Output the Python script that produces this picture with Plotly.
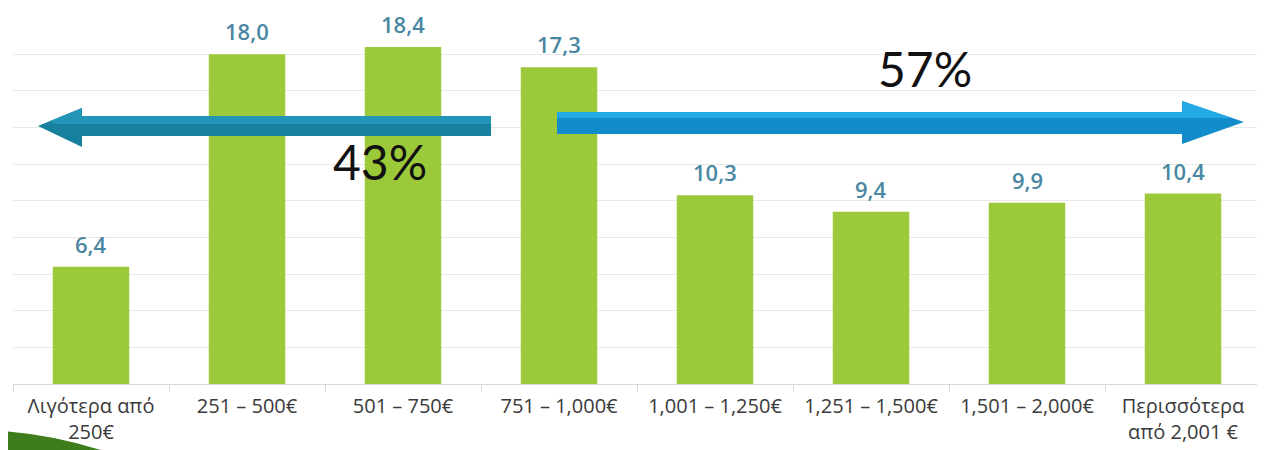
import plotly.graph_objects as go

categories = ["Λιγότερα από<br>250€", "251 – 500€", "501 – 750€", "751 – 1,000€",
              "1,001 – 1,250€", "1,251 – 1,500€", "1,501 – 2,000€", "Περισσότερα<br>από 2,001 €"]
values = [6.4, 18.0, 18.4, 17.3, 10.3, 9.4, 9.9, 10.4]
value_labels = [f"{v:.1f}".replace(".", ",") for v in values]
share_left = "43%"
share_right = "57%"

# page body has an 8px default margin; compensate so the picture lines up with the window
OFF = 8
W, H = 1265 - OFF, 450 - OFF
# target plot area in window pixels: x 13..1261, y 17..384
L_PX, R_PX, T_PX, B_PX = 13, 1261, 17, 384
ML, MT = L_PX - OFF, T_PX - OFF
MR = W - (R_PX - OFF)
MB = H - (B_PX - OFF)
PW, PH = R_PX - L_PX, B_PX - T_PX


def px(x):
    return (x - L_PX) / PW


def py(y):
    return (B_PX - y) / PH


def path(points):
    return "M " + " L ".join(f"{px(x):.5f},{py(y):.5f}" for x, y in points) + " Z"


fig = go.Figure()
fig.add_trace(go.Bar(
    x=categories, y=values, width=0.49,
    marker=dict(color="#9bc93a", line=dict(width=0)),
    hoverinfo="skip",
))

for c, v, t in zip(categories, values, value_labels):
    fig.add_annotation(x=c, y=v, text=t, showarrow=False, yanchor="bottom", yshift=6,
                       font=dict(family="Open Sans", size=22, color="#4a87a2", weight=600))

shapes = []
# bottom-left swoosh (under the tick labels)
shapes.append(dict(type="path", xref="paper", yref="paper",
                   path=f"M {px(0):.5f},{py(431):.5f} Q {px(50):.5f},{py(434):.5f} {px(104):.5f},{py(451):.5f} "
                        f"L {px(0):.5f},{py(451):.5f} Z",
                   fillcolor="#3f7d1c", line=dict(width=0), layer="below"))
# left arrow (teal)
left_arrow = [(38, 126), (82, 108), (82, 116), (491, 116), (491, 136), (82, 136), (82, 147)]
shapes.append(dict(type="path", xref="paper", yref="paper", path=path(left_arrow),
                   fillcolor="#17809f", line=dict(width=0), layer="above"))
shapes.append(dict(type="path", xref="paper", yref="paper",
                   path=path([(50, 121), (82, 108), (82, 116), (491, 116), (491, 124), (82, 124), (56, 124)]),
                   fillcolor="#2396b8", line=dict(width=0), layer="above"))
# right arrow (blue)
right_arrow = [(557, 112), (1182, 112), (1182, 101), (1244, 122), (1182, 144), (1182, 134), (557, 134)]
shapes.append(dict(type="path", xref="paper", yref="paper", path=path(right_arrow),
                   fillcolor="#138ccb", line=dict(width=0), layer="above"))
shapes.append(dict(type="path", xref="paper", yref="paper",
                   path=path([(557, 112), (1182, 112), (1182, 101), (1232, 118), (1182, 118), (557, 118)]),
                   fillcolor="#22a9e6", line=dict(width=0), layer="above"))
fig.update_layout(shapes=shapes)

fig.add_annotation(xref="paper", yref="paper", x=px(925), y=py(69), xanchor="center", yanchor="middle",
                   text=share_right, showarrow=False,
                   font=dict(family="Lato", size=48, color="#111111"))
fig.add_annotation(xref="paper", yref="paper", x=px(380), y=py(162), xanchor="center", yanchor="middle",
                   text=share_left, showarrow=False,
                   font=dict(family="Lato", size=48, color="#111111"))

fig.update_layout(
    width=W, height=H,
    margin=dict(l=ML, r=MR, t=MT, b=MB, autoexpand=False),
    paper_bgcolor="white", plot_bgcolor="white",
    showlegend=False,
    xaxis=dict(type="category", tickson="boundaries", ticks="outside", ticklen=7,
               tickcolor="#d9d9d9", showline=True, linecolor="#d9d9d9", linewidth=1,
               showgrid=False, automargin=False, ticklabelstandoff=4,
               tickfont=dict(family="Open Sans", size=20, color="#3a3a3a"),
               fixedrange=True),
    yaxis=dict(range=[0, 20.04], tick0=0, dtick=2, showgrid=True, gridcolor="#e8e8e8", gridwidth=1,
               showticklabels=False, zeroline=False, fixedrange=True, automargin=False),
)

fig.write_html("out.html")
